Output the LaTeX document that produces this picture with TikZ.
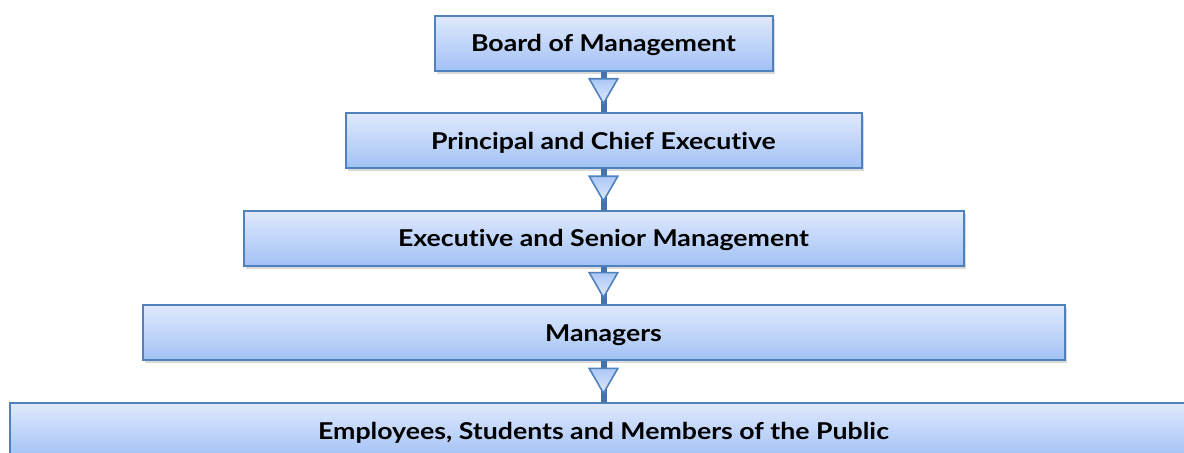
\documentclass[tikz,border=0pt]{standalone}
\usepackage{fontspec}
\setmainfont{Lato}[Ligatures=NoCommon,FakeStretch=1.15]
\usetikzlibrary{shapes.geometric,shadows}

\definecolor{boxtop}{RGB}{223,233,252}
\definecolor{boxbot}{RGB}{162,193,246}
\definecolor{boxline}{RGB}{79,129,189}
\definecolor{stemcol}{RGB}{70,114,172}

\begin{document}
\begin{tikzpicture}[x=0.5pt,y=0.5pt,
  level/.style={draw=boxline,line width=1pt,top color=boxtop,bottom color=boxbot,
    minimum height=27.5pt,text height=8.3pt,text depth=0pt,
    font=\bfseries\fontsize{11.6}{14}\selectfont,
    drop shadow={shadow xshift=1.2pt,shadow yshift=-1.5pt,opacity=.3}},
  link/.style={stemcol,line width=3pt},
  tip/.style={regular polygon,regular polygon sides=3,shape border rotate=180,
    minimum size=16.5pt,inner sep=0pt,draw=boxline,line width=.8pt,
    top color=boxbot!90,bottom color=boxtop}]
  \useasboundingbox (0,0) rectangle (1184,453);

  \node[level,minimum width=169pt] (board) at (603.5,409.5) {Board of Management};
  \node[level,minimum width=258pt] (principal) at (603.5,312) {Principal and Chief Executive};
  \node[level,minimum width=360pt] (senior) at (603.5,214.5) {Executive and Senior Management};
  \node[level,minimum width=461pt] (managers) at (603.5,120) {Managers};
  \node[level,minimum width=593.5pt] (public) at (603.5,22) {Employees, Students and Members of the Public};

  \draw[link] (board) -- (principal) node[tip,pos=.37] {};
  \draw[link] (principal) -- (senior) node[tip,pos=.37] {};
  \draw[link] (senior) -- (managers) node[tip,pos=.37] {};
  \draw[link] (managers) -- (public) node[tip,pos=.37] {};
\end{tikzpicture}
\end{document}
